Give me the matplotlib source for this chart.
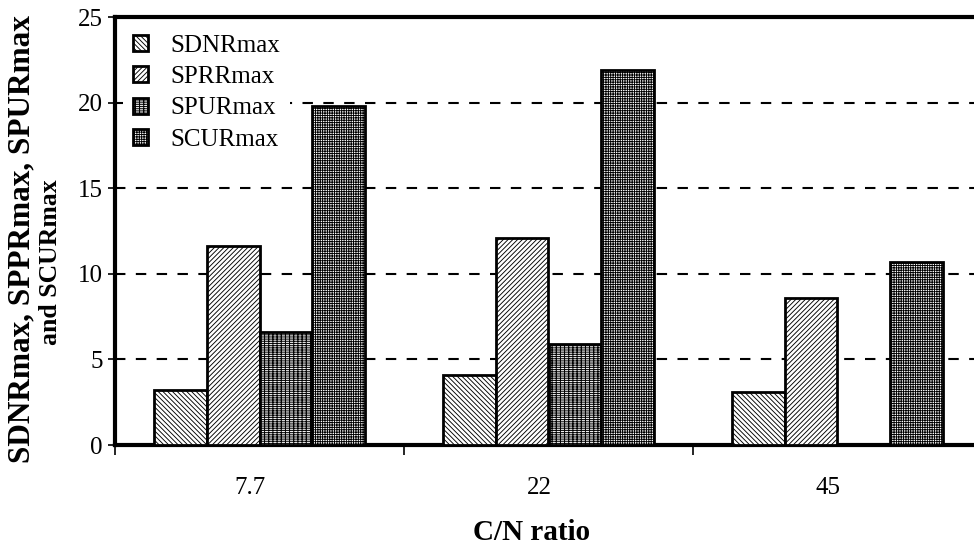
import matplotlib
matplotlib.use("Agg")
import matplotlib.pyplot as plt
import matplotlib.transforms as mtransforms
import numpy as np

plt.rcParams["font.family"] = ["Liberation Serif", "DejaVu Serif"]
plt.rcParams["hatch.linewidth"] = 0.65

# C/N ratio groups and the four maxima per group
ratios = ["7.7", "22", "45"]
series = ["SDNRmax", "SPRRmax", "SPURmax", "SCURmax"]
sdnr = [3.2, 4.1, 3.1]
sprr = [11.6, 12.1, 8.6]
spur = [6.6, 5.9, 0.0]
scur = [19.8, 21.9, 10.7]
y_ticks = [0, 5, 10, 15, 20, 25]

hatches = ["\\" * 7, "/" * 7, "-" * 9 + "|" * 4, "+" * 7]

fig = plt.figure(figsize=(9.74, 5.49), dpi=100)
ax = fig.add_axes([115 / 974, 1 - 445 / 549, 867 / 974, 428 / 549])

x = np.arange(len(ratios))
width = 0.182
for i, (name, vals, h) in enumerate(zip(series, [sdnr, sprr, spur, scur], hatches)):
    ax.bar(x + (i - 1.5) * width, vals, width, label=name, facecolor="white",
           edgecolor="black", hatch=h, linewidth=2, zorder=3)

ax.set_xlim(-0.5, len(ratios) - 0.5)
ax.set_ylim(0, 25)
ax.set_yticks(y_ticks)
ax.tick_params(axis="y", labelsize=18, direction="out", length=5, width=1.2, pad=4)

# category labels near the group centres, ticks at the group boundaries
ax.set_xticks(x)
ax.set_xticklabels(ratios, fontsize=18)
ax.tick_params(axis="x", which="major", length=0, pad=23)
shift = mtransforms.ScaledTranslation(-9 / 100, 0, fig.dpi_scale_trans)
for lab in ax.get_xticklabels():
    lab.set_transform(lab.get_transform() + shift)
ax.set_xticks(np.arange(-0.5, len(ratios)), minor=True)
ax.tick_params(axis="x", which="minor", direction="out", length=7, width=1.2)

for y in y_ticks[1:-1]:
    ax.axhline(y, color="black", linestyle=(0, (5, 5)), linewidth=1.5, zorder=1)

for side in ["left", "bottom", "top"]:
    ax.spines[side].set_linewidth(3)
ax.spines["right"].set_visible(False)

ax.set_xlabel("C/N ratio", fontsize=21, fontweight="bold")
ax.xaxis.set_label_coords(0.481, -0.172)

# two-line axis title
fig.text(22 / 974, 1 - 463 / 549, "SDNRmax, SPPRmax, SPURmax", rotation=90,
         rotation_mode="anchor", ha="left", va="center", fontsize=22.5,
         fontweight="bold")
fig.text(51 / 974, 1 - 262 / 549, "and SCURmax", rotation=90,
         rotation_mode="anchor", ha="center", va="center", fontsize=18.5,
         fontweight="bold")

leg = ax.legend(loc="upper left", frameon=True, fontsize=18, handlelength=0.6,
                handleheight=0.6, handletextpad=0.9, labelspacing=0.38,
                borderaxespad=0.3, borderpad=0.4, fancybox=False)
leg.get_frame().set_edgecolor("none")
leg.get_frame().set_facecolor("white")
leg.get_frame().set_alpha(1)
leg.set_zorder(5)

fig.savefig("out.png", dpi=100)
